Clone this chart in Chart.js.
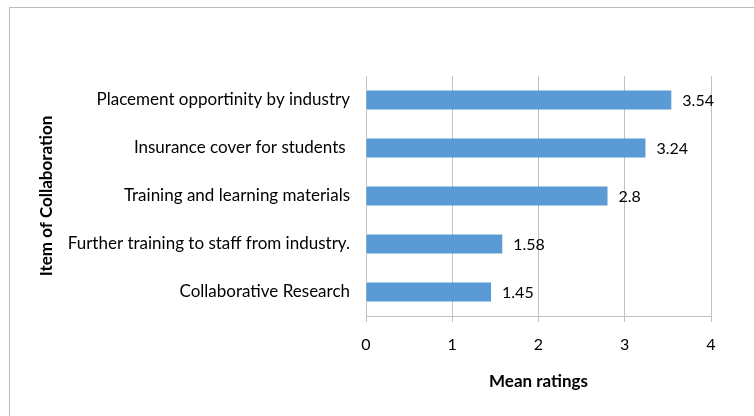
<!DOCTYPE html>
<html lang="en">
  <head>
    <meta charset="UTF-8" />
    <title>mean ratings</title>
    <script src="https://cdn.jsdelivr.net/npm/chart.js@4"></script>
    <style>
      html, body { margin: 0; padding: 0; background: #fff; overflow: hidden; }
      .frame { position: absolute; left: 9px; top: 7px; width: 800px; height: 460px; border: 1px solid #bcbcbc; }
      .wrap { position: absolute; left: 0; top: 0; width: 754px; height: 416px; }
    </style>
  </head>
  <body>
    <div class="frame"></div>
    <div class="wrap"><canvas id="myChart" width="754" height="416"></canvas></div>
    <script>
      const items = [
        "Placement opportinity by industry",
        "Insurance cover for students ",
        "Training and learning materials",
        "Further training to staff from industry.",
        "Collaborative Research",
      ];
      const ratings = [3.54, 3.24, 2.8, 1.58, 1.45];
      const ratingLabels = ["3.54", "3.24", "2.8", "1.58", "1.45"];
      const xTicks = [0, 1, 2, 3, 4];

      const font = "Lato, 'Open Sans', sans-serif";

      // value labels right of each bar
      const valueLabels = {
        id: "valueLabels",
        afterDatasetsDraw(chart) {
          const ctx = chart.ctx;
          const meta = chart.getDatasetMeta(0);
          ctx.save();
          ctx.font = "16px " + font;
          ctx.fillStyle = "#000";
          ctx.textAlign = "left";
          ctx.textBaseline = "middle";
          meta.data.forEach(function (bar, i) {
            ctx.fillText(ratingLabels[i], bar.x + 11, bar.y + 1);
          });
          ctx.restore();
        },
      };

      const ctx = document.querySelector("#myChart").getContext("2d");
      const myChart = new Chart(ctx, {
        type: "bar",
        data: {
          labels: items,
          datasets: [
            {
              data: ratings,
              backgroundColor: "#5b9bd5",
              borderWidth: 0,
              barPercentage: 0.4,
              categoryPercentage: 1,
            },
          ],
        },
        options: {
          indexAxis: "y",
          responsive: false,
          animation: false,
          layout: { padding: { top: 76, right: 43, left: 0, bottom: 0 } },
          plugins: { legend: { display: false }, tooltip: { enabled: false } },
          scales: {
            x: {
              min: 0,
              max: 4,
              afterBuildTicks: function (scale) {
                scale.ticks = xTicks.map(function (v) { return { value: v }; });
              },
              grid: { color: "#c0c0c0", lineWidth: 1, tickLength: 6, drawOnChartArea: true },
              border: { color: "#c0c0c0" },
              ticks: { color: "#000", font: { family: font, size: 16 }, padding: 13 },
              title: {
                display: true,
                text: "Mean ratings",
                color: "#000",
                font: { family: font, size: 17, weight: "bold" },
                padding: { top: 0, bottom: 24 },
              },
              afterFit: function (scale) { scale.height = 100; },
            },
            y: {
              grid: { display: false, drawTicks: false },
              border: { display: true, color: "#c0c0c0" },
              ticks: { color: "#000", font: { family: font, size: 17 }, padding: 16 },
              title: {
                display: true,
                text: "Item of Collaboration",
                color: "#000",
                font: { family: font, size: 17, weight: "bold" },
                padding: { top: 36, bottom: 0 },
              },
              afterFit: function (scale) { scale.width = 366; },
            },
          },
        },
        plugins: [valueLabels],
      });
    </script>
  </body>
</html>
